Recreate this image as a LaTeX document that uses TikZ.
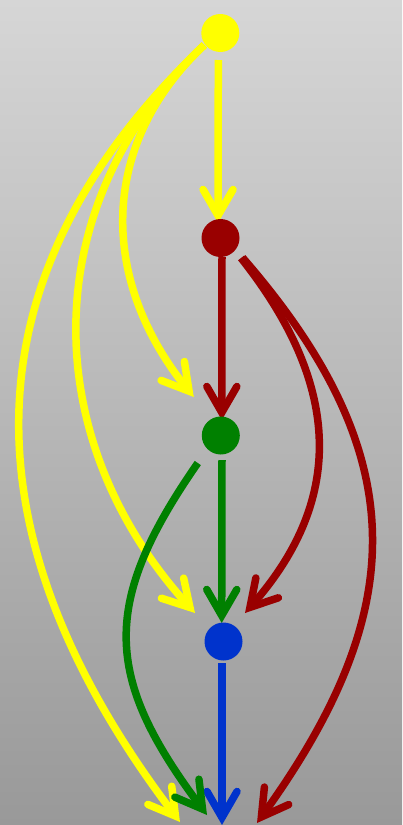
\documentclass[tikz,border=0pt]{standalone}
\usetikzlibrary{arrows.meta,calc}
\definecolor{cy}{HTML}{FFFF00}
\definecolor{cr}{HTML}{990000}
\definecolor{cg}{HTML}{008000}
\definecolor{cb}{HTML}{0033CC}
\definecolor{bgtop}{HTML}{D6D6D6}
\definecolor{bgbot}{HTML}{999999}
\pgfdeclarelayer{bglayer}
\pgfdeclarelayer{edgelayer}
\pgfsetlayers{bglayer,edgelayer,main}
\begin{document}
\begin{tikzpicture}[x=1pt,y=-1pt,
  vtx/.style={circle,inner sep=0pt,minimum size=38pt,draw=none},
  edge/.style={line width=7.5pt,line cap=butt,
    -{Straight Barb[length=26pt,width=30pt,line cap=round,line join=miter]}}]
\begin{pgfonlayer}{bglayer}
\shade[top color=bgtop,bottom color=bgbot] (0,0) rectangle (402,825);
\end{pgfonlayer}
\useasboundingbox (0,0) rectangle (402,825);
\node[vtx,fill=cy] (Y) at (220.3,33) {};
\node[vtx,fill=cr] (R) at (220.5,238) {};
\node[vtx,fill=cg] (G) at (220.8,435.5) {};
\node[vtx,fill=cb] (B) at (223.5,641.5) {};
\coordinate (S) at (222,845);
\begin{pgfonlayer}{edgelayer}
% straight edges
\draw[edge,cy] ($(Y)+(-2,27)$) -- ($(R)+(-2.5,-15)$);
\draw[edge,cr] ($(R)+(1.5,19)$) -- ($(G)+(1,-15.5)$);
\draw[edge,cg] ($(G)+(1.2,24.5)$) -- ($(B)+(-1.8,-18.5)$);
\draw[edge,cb] ($(B)+(-1.5,21.5)$) -- ($(S)+(0,-20)$);
% yellow curves
\draw[edge,cy] ($(Y)+(-16,12)$) .. controls +(-108,102) and +(-93,-115) .. ($(G)+(-27,-38.5)$);
\draw[edge,cy] ($(Y)+(-16,12)$) .. controls +(-170,160) and +(-157.5,-174) .. ($(B)+(-28.5,-28.5)$);
\draw[edge,cy] ($(Y)+(-16,12)$) .. controls +(-268,255) and +(-192,-253) .. ($(S)+(-42,-23)$);
% red curves
\draw[edge,cr] ($(R)+(20.5,20)$) .. controls +(97,122.5) and +(103.6,-117.8) .. ($(B)+(21.5,-28.5)$);
\draw[edge,cr] ($(R)+(22,19.5)$) .. controls +(172,198) and +(153,-212.6) .. ($(S)+(35,-22)$);
% green curve
\draw[edge,cg] ($(G)+(-23,27.5)$) .. controls +(-98,141) and +(-103,-137.6) .. ($(S)+(-15,-30)$);
\end{pgfonlayer}
\end{tikzpicture}
\end{document}
